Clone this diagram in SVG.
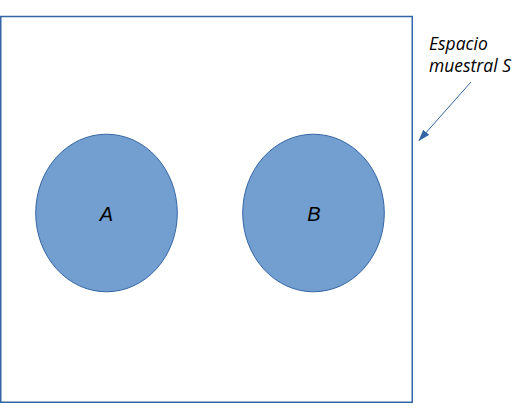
<svg xmlns="http://www.w3.org/2000/svg" width="529" height="416" viewBox="0 0 529 416">
<style>
.set{fill:#729fcf;stroke:#3465a4;stroke-width:1}
.lbl{font-family:"Liberation Sans",Arial,sans-serif;font-style:italic;font-size:20px;fill:#000;text-anchor:middle}
.note{font-family:"Open Sans","DejaVu Sans",sans-serif;font-style:italic;font-size:17.5px;fill:#000}
</style>
<defs>
<marker id="ah" markerWidth="12" markerHeight="8" refX="11" refY="4" orient="auto" markerUnits="userSpaceOnUse">
<path d="M0,0 L12,4 L0,8 Z" fill="#3465a4"/>
</marker>
</defs>
<g id="space">
<rect x="0.75" y="16.5" width="411.5" height="385.75" fill="#fff" stroke="#3465a4" stroke-width="1.5"/>
</g>
<g id="A">
<ellipse class="set" cx="106.5" cy="213" rx="70.8" ry="78.8"/>
<text class="lbl" x="106.5" y="220.5">A</text>
</g>
<g id="B">
<ellipse class="set" cx="313.5" cy="213" rx="70.8" ry="78.8"/>
<text class="lbl" x="314" y="220.5">B</text>
</g>
<g id="label">
<text class="note" x="429" y="50">Espacio</text>
<text class="note" x="429" y="72">muestral S</text>
</g>
<g id="connectors">
<line x1="471" y1="82" x2="419" y2="140.5" stroke="#3465a4" stroke-width="1" marker-end="url(#ah)"/>
</g>
</svg>
